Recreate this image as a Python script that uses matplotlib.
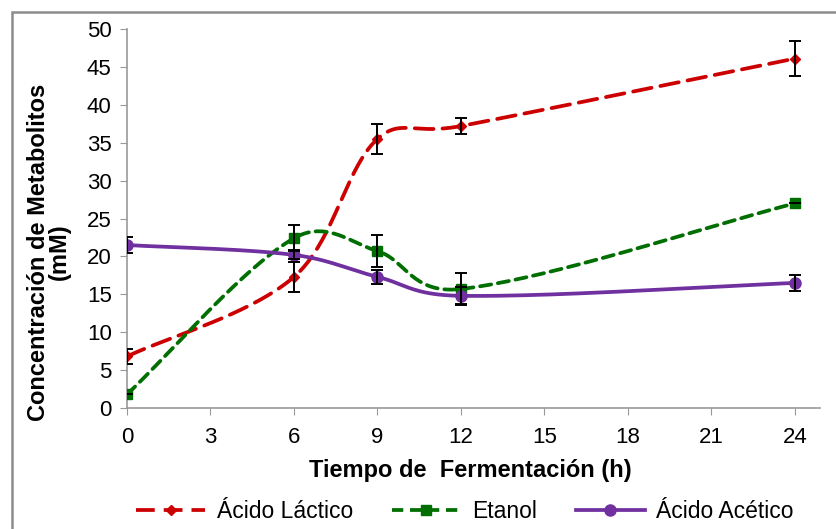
import numpy as np
import matplotlib.pyplot as plt
from matplotlib.lines import Line2D
from matplotlib.patches import Rectangle

plt.rcParams['font.family'] = ['Liberation Sans', 'DejaVu Sans']

# tiempo de fermentacion (h)
tiempo = [0, 6, 9, 12, 24]

lactico = [6.8, 17.3, 35.5, 37.2, 46.1]
lactico_err = [1.0, 2.0, 2.0, 1.0, 2.3]

etanol = [1.8, 22.4, 20.7, 15.7, 27.0]
etanol_err = [0.0, 1.7, 2.1, 2.1, 0.0]

acetico = [21.5, 20.2, 17.3, 14.8, 16.5]
acetico_err = [1.0, 0.6, 0.9, 1.1, 1.0]

xticks = [0, 3, 6, 9, 12, 15, 18, 21, 24]
yticks = [0, 5, 10, 15, 20, 25, 30, 35, 40, 45, 50]


def suavizar(ax, x, y, n=40):
    # curva suave tipo Excel: bezier cubica; la tangente mezcla catmull-rom
    # con una version ponderada por la longitud de cada tramo (en pixeles)
    p = ax.transData.transform(np.column_stack([x, y]).astype(float))
    ext = np.vstack([p[0], p, p[-1]])
    L = np.hypot(*np.diff(ext, axis=0).T)
    t = np.linspace(0, 1, n)[:, None]
    out = []
    for i in range(len(p) - 1):
        p0 = ext[i + 1]
        p3 = ext[i + 2]
        d0 = ext[i + 2] - ext[i]
        d1 = ext[i + 3] - ext[i + 1]
        w0 = L[i + 1] / max(L[i] + L[i + 1], 1e-9)
        w1 = L[i + 1] / max(L[i + 1] + L[i + 2], 1e-9)
        c1 = p0 + d0 * (1 / 6 + w0 / 3) / 2
        c2 = p3 - d1 * (1 / 6 + w1 / 3) / 2
        seg = ((1 - t) ** 3) * p0 + 3 * ((1 - t) ** 2) * t * c1 + 3 * (1 - t) * t ** 2 * c2 + t ** 3 * p3
        out.append(seg if i == 0 else seg[1:])
    out = ax.transData.inverted().transform(np.vstack(out))
    return out[:, 0], out[:, 1]


fig = plt.figure(figsize=(8.37, 5.29), dpi=100)
ax = fig.add_axes([127 / 837, 1 - 408 / 529, (820 - 127) / 837, (408 - 29) / 529])
ax.set_xlim(0, 24.9)
ax.set_ylim(0, 50)

rojo = '#cc0000'
verde = '#006e00'
morado = '#7030a0'

series = [
    (lactico, lactico_err, rojo, (5, 2.4), 'D', 5, 'Ácido Láctico'),
    (etanol, etanol_err, verde, (3.0, 1.8), 's', 7, 'Etanol'),
    (acetico, acetico_err, morado, None, 'o', 8, 'Ácido Acético'),
]

handles = []
for y, err, color, dashes, mk, ms, label in series:
    xs, ys = suavizar(ax, tiempo, y)
    line, = ax.plot(xs, ys, color=color, lw=2.7, solid_capstyle='round', zorder=3)
    if dashes:
        line.set_dashes(dashes)
        line.set_dash_capstyle('round')
    ax.plot(tiempo, y, ls='none', marker=mk, ms=ms, color=color, zorder=4)
    ax.errorbar(tiempo, y, yerr=err, fmt='none', ecolor='black', elinewidth=1.4,
                capsize=4.3, capthick=1.4, zorder=5)
    h = Line2D([], [], color=color, lw=2.7, marker=mk, ms=ms)
    if dashes:
        h.set_dashes(dashes)
    handles.append((h, label))

ax.set_xticks(xticks)
ax.set_yticks(yticks)
ax.tick_params(axis='both', direction='out', length=5, color='#999999', labelsize=16)
ax.tick_params(axis='x', pad=9)
ax.tick_params(axis='y', pad=6)
for s in ['top', 'right']:
    ax.spines[s].set_visible(False)
for s in ['left', 'bottom']:
    ax.spines[s].set_color('#999999')
    ax.spines[s].set_linewidth(1.2)

ax.set_xlabel('Tiempo de  Fermentación (h)', fontsize=17, fontweight='bold')
ax.xaxis.set_label_coords((470 - 127) / 693, -(459 - 408) / 379)
ax.set_ylabel('Concentración de Metabolitos\n(mM)', fontsize=17, fontweight='bold',
              linespacing=0.9)
ax.yaxis.set_label_coords(-(127 - 71) / 693, (408 - 252) / 379)

fig.legend([h for h, _ in handles], [l for _, l in handles], loc='center',
           bbox_to_anchor=(465 / 837, 1 - 512 / 529), ncol=3, frameon=False, fontsize=16.5,
           handlelength=3.0, columnspacing=1.7, handletextpad=0.5)

# marco exterior del grafico
fig.patches.append(Rectangle((12 / 837, -0.5), 2, 1.5 - 12 / 529, transform=fig.transFigure,
                             fill=False, edgecolor='#8c8c8c', lw=1.8))

fig.savefig('out.png', dpi=100)
